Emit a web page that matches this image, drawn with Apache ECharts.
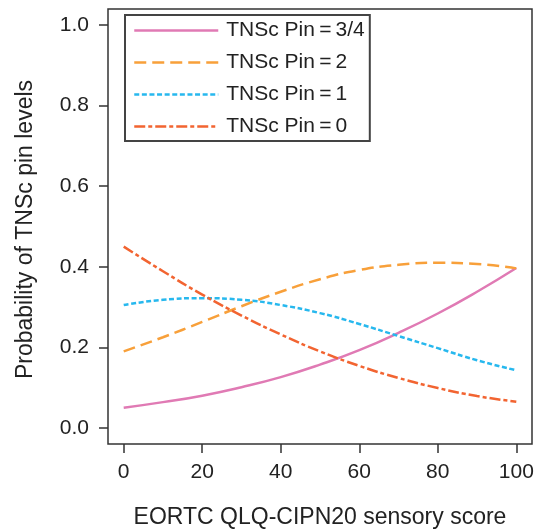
<!DOCTYPE html>
<html>
<head>
<meta charset="utf-8">
<script src="https://cdn.jsdelivr.net/npm/echarts@6/dist/echarts.min.js"></script>
<style>html,body{margin:0;padding:0;background:#fff}#c{width:539px;height:529px}</style>
</head>
<body>
<div id="c"></div>
<script>
var scores = [0, 10, 20, 30, 40, 50, 60, 70, 80, 90, 100];
var pin34 = [0.050, 0.064, 0.080, 0.101, 0.126, 0.157, 0.193, 0.236, 0.284, 0.338, 0.397];
var pin2  = [0.190, 0.225, 0.263, 0.302, 0.338, 0.369, 0.392, 0.405, 0.410, 0.407, 0.396];
var pin1  = [0.305, 0.318, 0.322, 0.318, 0.305, 0.285, 0.258, 0.228, 0.198, 0.168, 0.143];
var pin0  = [0.450, 0.389, 0.331, 0.279, 0.232, 0.190, 0.154, 0.124, 0.099, 0.079, 0.065];
var xTicks = [0, 20, 40, 60, 80, 100];
var yTicks = [0, 0.2, 0.4, 0.6, 0.8, 1.0];
var names = ['TNSc Pin\u2009=\u20093/4', 'TNSc Pin\u2009=\u20092', 'TNSc Pin\u2009=\u20091', 'TNSc Pin\u2009=\u20090'];
var colors = ['#e07ab4', '#f8a03a', '#27b8ee', '#f26431'];
var dashes = ['solid', [12, 6], [5, 2.6], [11, 3, 4, 3]];
var values = [pin34, pin2, pin1, pin0];

function pairs(v) { return scores.map(function (x, i) { return [x, v[i]]; }); }

var FONT = 'Liberation Sans, Arial, Helvetica, sans-serif';
var chart = echarts.init(document.getElementById('c'));
chart.setOption({
  animation: false,
  backgroundColor: '#fff',
  grid: { left: 108, right: 7, top: 9, bottom: 85, containLabel: false, outerBoundsMode: 'none',
    show: true, borderColor: '#333', borderWidth: 1.5, backgroundColor: 'transparent' },
  legend: {
    orient: 'vertical', left: 125, top: 15,
    itemWidth: 84, itemHeight: 14, itemGap: 11,
    padding: [5, 5, 4, 8],
    borderColor: '#444', borderWidth: 2,
    itemStyle: { opacity: 0 },
    lineStyle: { width: 2.5 },
    textStyle: { fontFamily: FONT, fontSize: 21, color: '#222', lineHeight: 20, padding: [0, 0, 0, 3] },
    data: names
  },
  xAxis: {
    type: 'value', min: -4, max: 104,
    name: 'EORTC QLQ-CIPN20 sensory score', nameLocation: 'middle', nameGap: 62,
    nameTextStyle: { fontFamily: FONT, fontSize: 23, color: '#222' },
    axisLine: { show: false, onZero: false },
    axisTick: { show: true, inside: false, length: 9, customValues: xTicks, lineStyle: { color: '#333', width: 1.5 } },
    axisLabel: { customValues: xTicks, fontFamily: FONT, fontSize: 21, color: '#222', margin: 18 },
    splitLine: { show: false }
  },
  yAxis: {
    type: 'value', min: -0.04, max: 1.04,
    name: 'Probability of TNSc pin levels', nameLocation: 'middle', nameGap: 71, nameRotate: 90,
    nameTextStyle: { fontFamily: FONT, fontSize: 23, color: '#222', padding: [0, 6, 0, 0] },
    axisLine: { show: false, onZero: false },
    axisTick: { show: true, inside: false, length: 9, customValues: yTicks, lineStyle: { color: '#333', width: 1.5 } },
    axisLabel: { customValues: yTicks, fontFamily: FONT, fontSize: 21, color: '#222', margin: 19,
      formatter: function (v) { return v.toFixed(1); } },
    splitLine: { show: false }
  },
  series: values.map(function (v, i) {
    return {
      name: names[i], type: 'line', smooth: true, symbol: 'none',
      data: pairs(v),
      lineStyle: { color: colors[i], width: 2.5, type: dashes[i] },
      itemStyle: { color: colors[i] }
    };
  })
});
</script>
</body>
</html>
